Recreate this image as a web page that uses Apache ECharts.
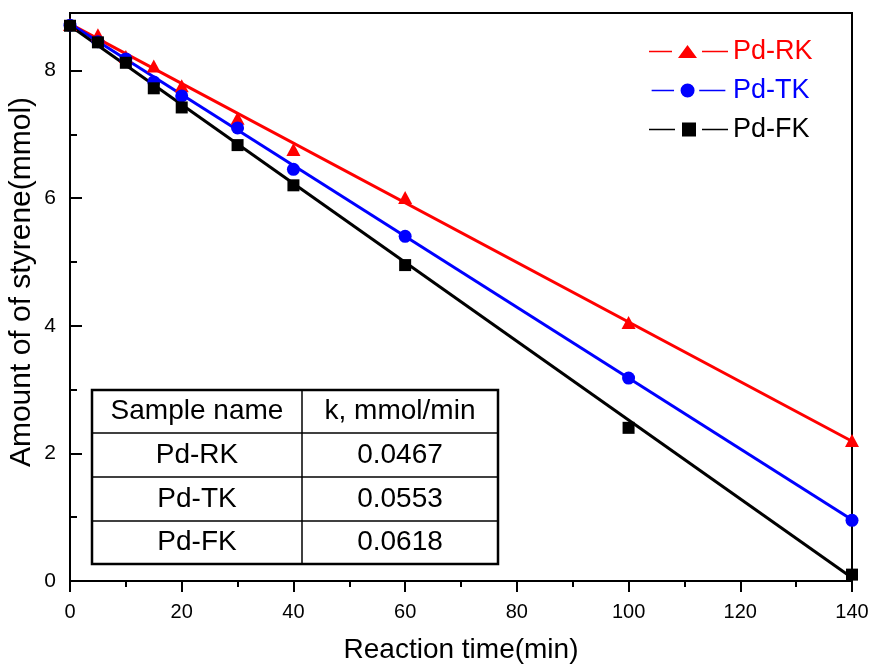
<!DOCTYPE html>
<html>
<head>
<meta charset="utf-8">
<script src="https://cdn.jsdelivr.net/npm/echarts@6/dist/echarts.min.js"></script>
<style>html,body{margin:0;padding:0;background:#fff;}#c{width:873px;height:666px;}</style>
</head>
<body>
<div id="c"></div>
<script>
// ---- data ----
const times = [0, 5, 10, 15, 20, 30, 40, 60, 100, 140];
const rkValues = [8.72, 8.56, 8.22, 8.07, 7.76, 7.25, 6.76, 6.01, 4.05, 2.2];
const tkValues = [8.71, 8.45, 8.18, 7.82, 7.6, 7.1, 6.45, 5.4, 3.18, 0.95];
const fkValues = [8.7, 8.44, 8.12, 7.72, 7.42, 6.83, 6.2, 4.95, 2.4, 0.1];
const fitTimes = [0, 140];
const rkFit = [8.73, 2.19];
const tkFit = [8.73, 0.96];
const fkFit = [8.7, 0.05];
const seriesNames = ['Pd-RK', 'Pd-TK', 'Pd-FK'];
const tableHeader = ['Sample name', 'k, mmol/min'];
const kValues = ['0.0467', '0.0553', '0.0618'];

const FONT = 'Liberation Sans, Arial, sans-serif';
const colors = ['#ff0000', '#0000ff', '#000000'];
const pair = (xs, ys) => xs.map((x, i) => [x, ys[i]]);

const icons = [
  'path://M0,6.3H23V7.7H0Z M38.5,0.5L48,13.5L29,13.5Z M53,6.3H79V7.7H53Z',
  'path://M0,6.3H24V7.7H0Z M31,7A7.5,7.5 0 1,0 46,7A7.5,7.5 0 1,0 31,7Z M51,6.3H79V7.7H51Z',
  'path://M0,6.3H26V7.7H0Z M33,0H47V14H33Z M53,6.3H79V7.7H53Z'
];

// table graphics
const tx0 = 92, tx1 = 302, tx2 = 498;
const rowsY = [390, 433, 477, 521, 564];
const graphics = [];
graphics.push({type: 'rect', shape: {x: tx0, y: rowsY[0], width: tx2 - tx0, height: rowsY[4] - rowsY[0]},
  style: {fill: '#fff', stroke: '#000', lineWidth: 2.5}, z: 100});
for (let i = 1; i < 4; i++) {
  graphics.push({type: 'line', shape: {x1: tx0, y1: rowsY[i], x2: tx2, y2: rowsY[i]}, style: {stroke: '#000', lineWidth: 1.5}, z: 101});
}
graphics.push({type: 'line', shape: {x1: tx1, y1: rowsY[0], x2: tx1, y2: rowsY[4]}, style: {stroke: '#000', lineWidth: 1.5}, z: 101});
const rowTexts = [tableHeader].concat(seriesNames.map((n, i) => [n, kValues[i]]));
rowTexts.forEach((r, i) => {
  const cy = (rowsY[i] + rowsY[i + 1]) / 2;
  graphics.push({type: 'text', x: (tx0 + tx1) / 2, y: cy, z: 102,
    style: {text: r[0], font: '28px ' + FONT, fill: '#000', align: 'center', verticalAlign: 'middle'}});
  graphics.push({type: 'text', x: (tx1 + tx2) / 2, y: cy, z: 102,
    style: {text: r[1], font: '28px ' + FONT, fill: '#000', align: 'center', verticalAlign: 'middle'}});
});

const chart = echarts.init(document.getElementById('c'));
const axisLineStyle = {color: '#000', width: 2};
chart.setOption({
  backgroundColor: '#fff',
  animation: false,
  grid: {left: 70, right: 21, top: 13, bottom: 85, show: true, borderColor: '#000', borderWidth: 2,
    backgroundColor: 'transparent', outerBoundsMode: 'none', containLabel: false},
  legend: {
    orient: 'vertical', left: 649, top: 38, padding: 0, itemGap: 12,
    itemWidth: 79, itemHeight: 14,
    textStyle: {fontFamily: FONT, fontSize: 27, lineHeight: 27},
    data: seriesNames.map((n, i) => ({name: n, icon: icons[i], textStyle: {color: colors[i]}}))
  },
  xAxis: [{
    type: 'value', min: 0, max: 140, interval: 20,
    name: 'Reaction time(min)', nameLocation: 'middle', nameGap: 55, nameMoveOverlap: false,
    nameTextStyle: {fontFamily: FONT, fontSize: 28, color: '#000'},
    axisLine: {onZero: false, lineStyle: axisLineStyle},
    axisTick: {inside: false, length: 11, lineStyle: {color: '#000', width: 2}},
    minorTick: {show: true, splitNumber: 2, length: 6, lineStyle: {color: '#000', width: 2}},
    axisLabel: {fontFamily: FONT, fontSize: 20, color: '#000', margin: 21},
    splitLine: {show: false}
  }],
  yAxis: [{
    type: 'value', min: 0, max: 8.9, interval: 2,
    name: 'Amount of of styrene(mmol)', nameLocation: 'middle', nameGap: 33, nameMoveOverlap: false,
    nameTextStyle: {fontFamily: FONT, fontSize: 30, color: '#000', padding: [0, 0, 0, 30]},
    axisLine: {onZero: false, lineStyle: axisLineStyle},
    axisTick: {show: true, inside: true, length: 12, lineStyle: {color: '#000', width: 2}},
    axisLabel: {fontFamily: FONT, fontSize: 21, color: '#000', margin: 14, showMaxLabel: false},
    splitLine: {show: false}
  }, {
    type: 'value', min: 0, max: 8.9, interval: 1, position: 'left', offset: 0,
    axisLine: {show: false},
    axisTick: {show: true, inside: true, length: 7, lineStyle: {color: '#000', width: 2}},
    axisLabel: {show: false},
    splitLine: {show: false}
  }],
  series: [
    {name: 'fitRK', type: 'line', data: pair(fitTimes, rkFit), symbol: 'none', lineStyle: {color: colors[0], width: 3}, z: 2},
    {name: 'fitTK', type: 'line', data: pair(fitTimes, tkFit), symbol: 'none', lineStyle: {color: colors[1], width: 3}, z: 2},
    {name: 'fitFK', type: 'line', data: pair(fitTimes, fkFit), symbol: 'none', lineStyle: {color: colors[2], width: 3}, z: 2},
    {name: seriesNames[0], type: 'scatter', data: pair(times, rkValues), symbol: 'triangle', symbolSize: [14, 13], itemStyle: {color: colors[0], opacity: 1}, z: 3},
    {name: seriesNames[1], type: 'scatter', data: pair(times, tkValues), symbol: 'circle', symbolSize: 13, itemStyle: {color: colors[1], opacity: 1}, z: 4},
    {name: seriesNames[2], type: 'scatter', data: pair(times, fkValues), symbol: 'rect', symbolSize: 12, itemStyle: {color: colors[2], opacity: 1}, z: 5}
  ],
  graphic: graphics
});
</script>
</body>
</html>
